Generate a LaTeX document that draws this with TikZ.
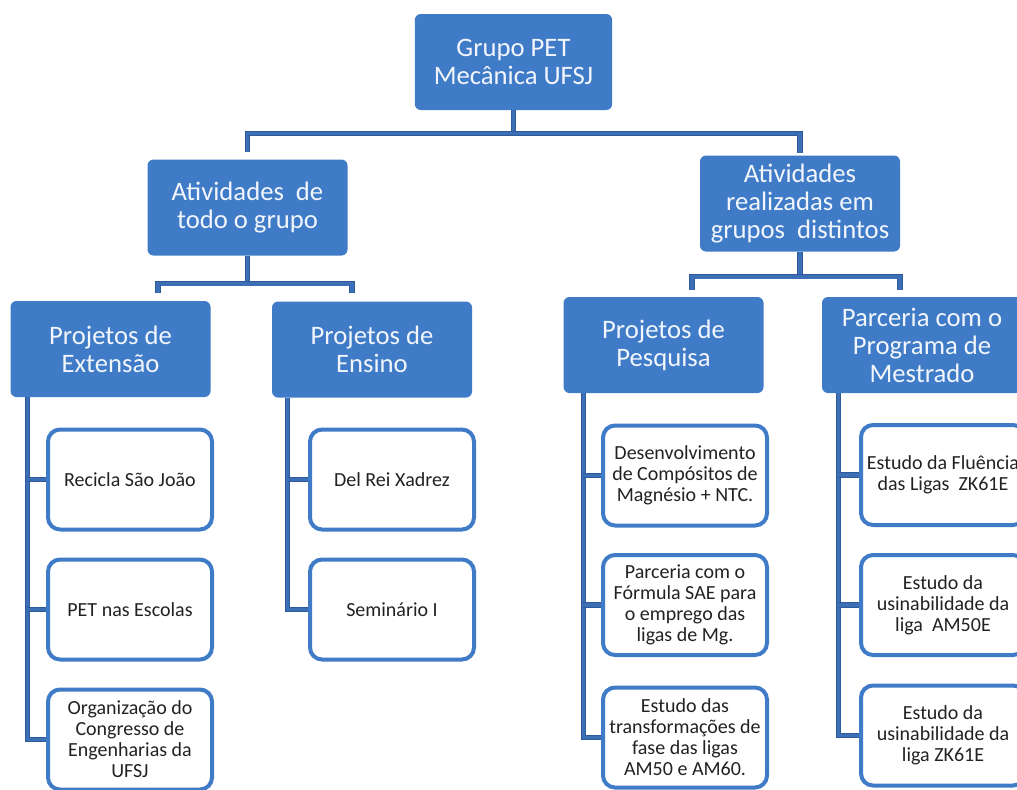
\documentclass[tikz,border=0pt]{standalone}
\usepackage{fontspec}
\setmainfont{Carlito}
\usetikzlibrary{calc}
\definecolor{boxblue}{HTML}{3F7BC7}
\definecolor{linkblue}{HTML}{3D6FB6}
\definecolor{linkdark}{HTML}{2C5A9A}
\definecolor{leaftext}{HTML}{222222}
\definecolor{headtext}{HTML}{F2F6FC}
\tikzset{
  head/.style={fill=boxblue, rounded corners=4.5pt, minimum width=150pt, minimum height=72pt,
    align=center, text=headtext, font=\fontsize{20}{21}\selectfont},
  leaf/.style={draw=boxblue, line width=3pt, fill=white, rounded corners=9pt, minimum width=123pt,
    minimum height=75pt, align=center, text=leaftext, font=\fontsize{15}{15.8}\selectfont},
  link/.style={draw=linkdark, line width=0.7pt, double=linkblue, double distance=2.6pt}
}

\begin{document}
\begin{tikzpicture}[x=0.75pt, y=-0.75pt]
  \useasboundingbox[fill=white] (0,0) rectangle (1017,789);
  \clip (0,0) rectangle (1017,789);

  \node[head, minimum width=148pt] (root) at (513.5,62) {Grupo PET\\Mecânica UFSJ};
  \node[head] (ativa) at (247.5,207.5) {Atividades\ \ de\\todo o grupo};
  \node[head] (ativb) at (800,203.5) {Atividades\\realizadas em\\grupos\ \ distintos};
  \node[head] (ext) at (110.5,349) {Projetos de\\Extensão};
  \node[head] (ens) at (372,349.5) {Projetos de\\Ensino};
  \node[head] (pesq) at (663.5,345) {Projetos de\\Pesquisa};
  \node[head] (mest) at (922,345) {Parceria com o\\Programa de\\Mestrado};

  \node[leaf] (e1) at (130,479.5) {Recicla São João};
  \node[leaf] (e2) at (130,609.5) {PET nas Escolas};
  \node[leaf] (e3) at (130,739.5) {Organização do\\Congresso de\\Engenharias da\\UFSJ};
  \node[leaf] (n1) at (392,479.5) {Del Rei Xadrez};
  \node[leaf] (n2) at (392,609.5) {Seminário I};
  \node[leaf] (p1) at (685,475.5) {Desenvolvimento\\de Compósitos de\\Magnésio + NTC.};
  \node[leaf] (p2) at (685,605) {Parceria com o\\Fórmula SAE para\\o emprego das\\ligas de Mg.};
  \node[leaf] (p3) at (685,737.5) {Estudo das\\transformações de\\fase das ligas\\AM50 e AM60.};
  \node[leaf] (m1) at (943,475) {Estudo da Fluência\\das Ligas\ \ ZK61E};
  \node[leaf] (m2) at (943,605) {Estudo da\\usinabilidade da\\liga\ \ AM50E};
  \node[leaf] (m3) at (943,735.5) {Estudo da\\usinabilidade da\\liga ZK61E};

  \draw[link] (root.south) -- ++(0,23) coordinate (r0);
  \draw[link] ($(ativa.north)+(0,-7)$) |- (r0) -| ($(ativb.north)+(0,-2)$);

  \draw[link] (ativa.south) -- ++(0,28) coordinate (a0);
  \coordinate (a1) at (158,293);
  \coordinate (a2) at (352,293);
  \draw[link] (a1) |- (a0) -| (a2);

  \draw[link] (ativb.south) -- ++(0,25) coordinate (b0);
  \coordinate (b1) at (692,290);
  \coordinate (b2) at (900,290);
  \draw[link] (b1) |- (b0) -| (b2);

  \draw[link] ($(ext.south west)+(17,0)$) coordinate (te) |- (e3.west);
  \foreach \n in {e1,e2} \draw[link] (te |- \n.west) -- (\n.west);
  \draw[link] ($(ens.south west)+(16,0)$) coordinate (tn) |- (n2.west);
  \draw[link] (tn |- n1.west) -- (n1.west);
  \draw[link] ($(pesq.south west)+(20,0)$) coordinate (tp) |- (p3.west);
  \foreach \n in {p1,p2} \draw[link] (tp |- \n.west) -- (\n.west);
  \draw[link] ($(mest.south west)+(17,0)$) coordinate (tm) |- (m3.west);
  \foreach \n in {m1,m2} \draw[link] (tm |- \n.west) -- (\n.west);
\end{tikzpicture}
\end{document}
